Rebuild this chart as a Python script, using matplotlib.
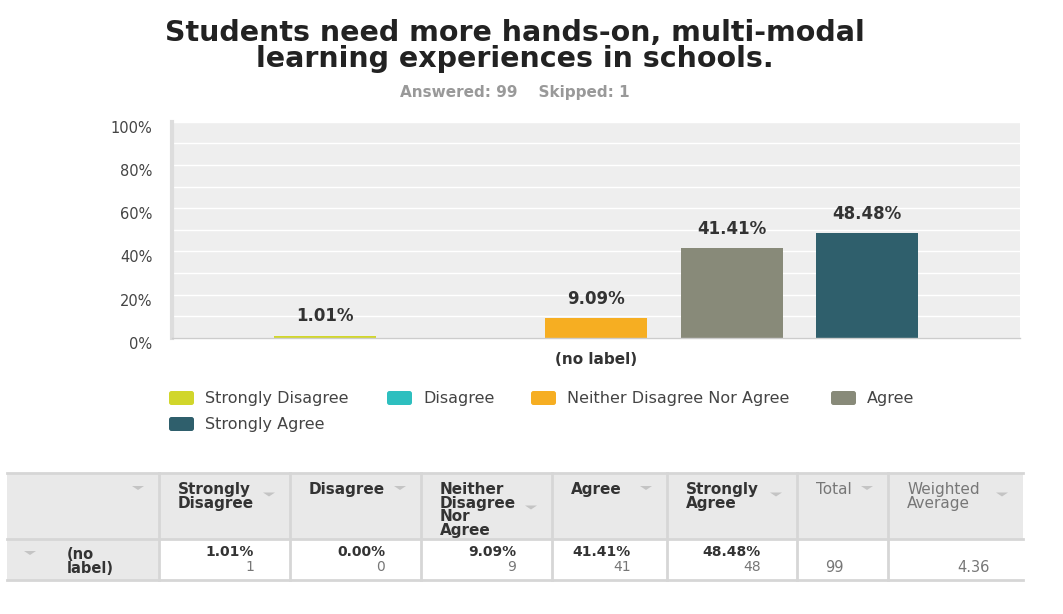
import matplotlib
matplotlib.use("Agg")
import matplotlib.pyplot as plt
from matplotlib.patches import Rectangle, FancyBboxPatch, Polygon
from matplotlib.transforms import ScaledTranslation

# --- data ---
categories = ["Strongly Disagree", "Disagree", "Neither Disagree Nor Agree", "Agree", "Strongly Agree"]
percents = [1.01, 0.00, 9.09, 41.41, 48.48]
counts = [1, 0, 9, 41, 48]
colors = ["#d1d62b", "#2ebfbf", "#f6ae22", "#888a79", "#2f5f6c"]
answered = 99
skipped = 1
weighted_avg = 4.36
row_label = "(no label)"
table_headers = ["", "Strongly\nDisagree", "Disagree", "Neither\nDisagree\nNor\nAgree",
                 "Agree", "Strongly\nAgree", "Total", "Weighted\nAverage"]
y_ticks = [0, 20, 40, 60, 80, 100]

W, H = 1063, 614
fig = plt.figure(figsize=(W / 100, H / 100), dpi=100)
plt.rcParams['font.family'] = ['DejaVu Sans']

# title
fig.text(515 / W, 1 - 33 / H, "Students need more hands-on, multi-modal",
         ha='center', va='center', fontsize=20.5, fontweight='bold', color='#222222')
fig.text(515 / W, 1 - 59 / H, "learning experiences in schools.",
         ha='center', va='center', fontsize=20.5, fontweight='bold', color='#222222')
fig.text(515 / W, 1 - 92 / H, f"Answered: {answered}    Skipped: {skipped}",
         ha='center', va='center', fontsize=11, fontweight='bold', color='#999999')

# --- bar chart ---
ax = fig.add_axes([172 / W, 1 - 338 / H, 848 / W, (338 - 121.7) / H])
ax.set_facecolor('#eeeeee')
x = list(range(len(categories)))
bars = ax.bar(x, percents, width=0.75, color=colors)
for xi, p in zip(x, percents):
    if p > 0:
        ax.text(xi, p + 9, f"{p:.2f}%", ha='center', va='center',
                fontsize=12, fontweight='bold', color='#333333')
ax.set_xlim(-1.125, 5.125)
ax.set_ylim(0, 100)
ax.set_yticks(range(0, 101, 10))
ax.set_yticklabels([f"{t}%" if t in y_ticks else "" for t in range(0, 101, 10)],
                   fontsize=10.5, color='#444444')
ax.grid(axis='y', color='white', linewidth=1)
ax.set_axisbelow(True)
ax.tick_params(axis='y', length=0, pad=14)
ax.set_xticks([2])
ax.set_xticklabels([row_label], fontsize=11, fontweight='bold', color='#333333')
ax.tick_params(axis='x', length=0, pad=10)
for s in ['top', 'right']:
    ax.spines[s].set_visible(False)
ax.spines['left'].set_color('#dddddd')
ax.spines['left'].set_linewidth(3)
ax.spines['bottom'].set_color('#cccccc')
ax.spines['bottom'].set_linewidth(1)
offset = ScaledTranslation(0, -5 / 100, fig.dpi_scale_trans)
for lab in ax.get_yticklabels():
    lab.set_transform(lab.get_transform() + offset)

# --- overlay in pixel coordinates for legend and table ---
ov = fig.add_axes([0, 0, 1, 1], zorder=-1)
ov.set_xlim(0, W)
ov.set_ylim(H, 0)
ov.axis('off')

# legend
legend_pos = [(168, 398), (386, 398), (530, 398), (830, 398), (168, 424)]
for (lx, ly), name, c in zip(legend_pos, categories, colors):
    ov.add_patch(FancyBboxPatch((lx + 1, ly - 7), 25, 14,
                                boxstyle="round,pad=0,rounding_size=2.5",
                                facecolor=c, edgecolor='none'))
    ov.text(lx + 37, ly, name, ha='left', va='center', fontsize=11.5, color='#444444')

# table
col_edges = [7, 159, 290, 421, 552, 667, 797, 888, 1023]
t_top, t_mid, t_bot = 473, 539, 580
ov.add_patch(Rectangle((col_edges[0], t_top), col_edges[-1] - col_edges[0], t_mid - t_top,
                       facecolor='#e9e9e9', edgecolor='none'))
ov.add_patch(Rectangle((col_edges[0], t_mid), 159 - col_edges[0], t_bot - t_mid,
                       facecolor='#e9e9e9', edgecolor='none'))
for yy in [t_top, t_mid, t_bot]:
    ov.plot([col_edges[0], col_edges[-1]], [yy, yy], color='#d6d6d6', lw=2)
for xx in col_edges[1:-1]:
    ov.plot([xx, xx], [t_top, t_bot], color='#d6d6d6', lw=2)


def arrow(cx, cy):
    ov.add_patch(Polygon([(cx - 6, cy - 2), (cx + 6, cy - 2), (cx, cy + 2)],
                         closed=True, facecolor='#c4c4c4', edgecolor='none'))


for i, hdr in enumerate(table_headers):
    left, right = col_edges[i], col_edges[i + 1]
    nl = hdr.count("\n") + 1
    bold = i < 6
    ov.text(left + 19, 482, hdr, ha='left', va='top', fontsize=11,
            fontweight='bold' if bold else 'normal',
            color='#333333' if bold else '#777777', linespacing=0.88)
    arrow(right - 21, 488 + (nl - 1) * 6.5)

# data row
arrow(30, 553)
ov.text(67, 547, "(no\nlabel)", ha='left', va='top', fontsize=10.5, fontweight='bold',
        color='#333333', linespacing=0.9)
for i, (p, n) in enumerate(zip(percents, counts)):
    right = col_edges[i + 2]
    ov.text(right - 36, 552, f"{p:.2f}%", ha='right', va='center', fontsize=10,
            fontweight='bold', color='#333333')
    ov.text(right - 36, 567, f"{n}", ha='right', va='center', fontsize=10, color='#777777')
ov.text(col_edges[7] - 44, 567, f"{answered}", ha='right', va='center', fontsize=10.5, color='#777777')
ov.text(col_edges[8] - 33, 567, f"{weighted_avg:.2f}", ha='right', va='center', fontsize=10.5, color='#777777')

fig.savefig("out.png", dpi=100, facecolor='white')
